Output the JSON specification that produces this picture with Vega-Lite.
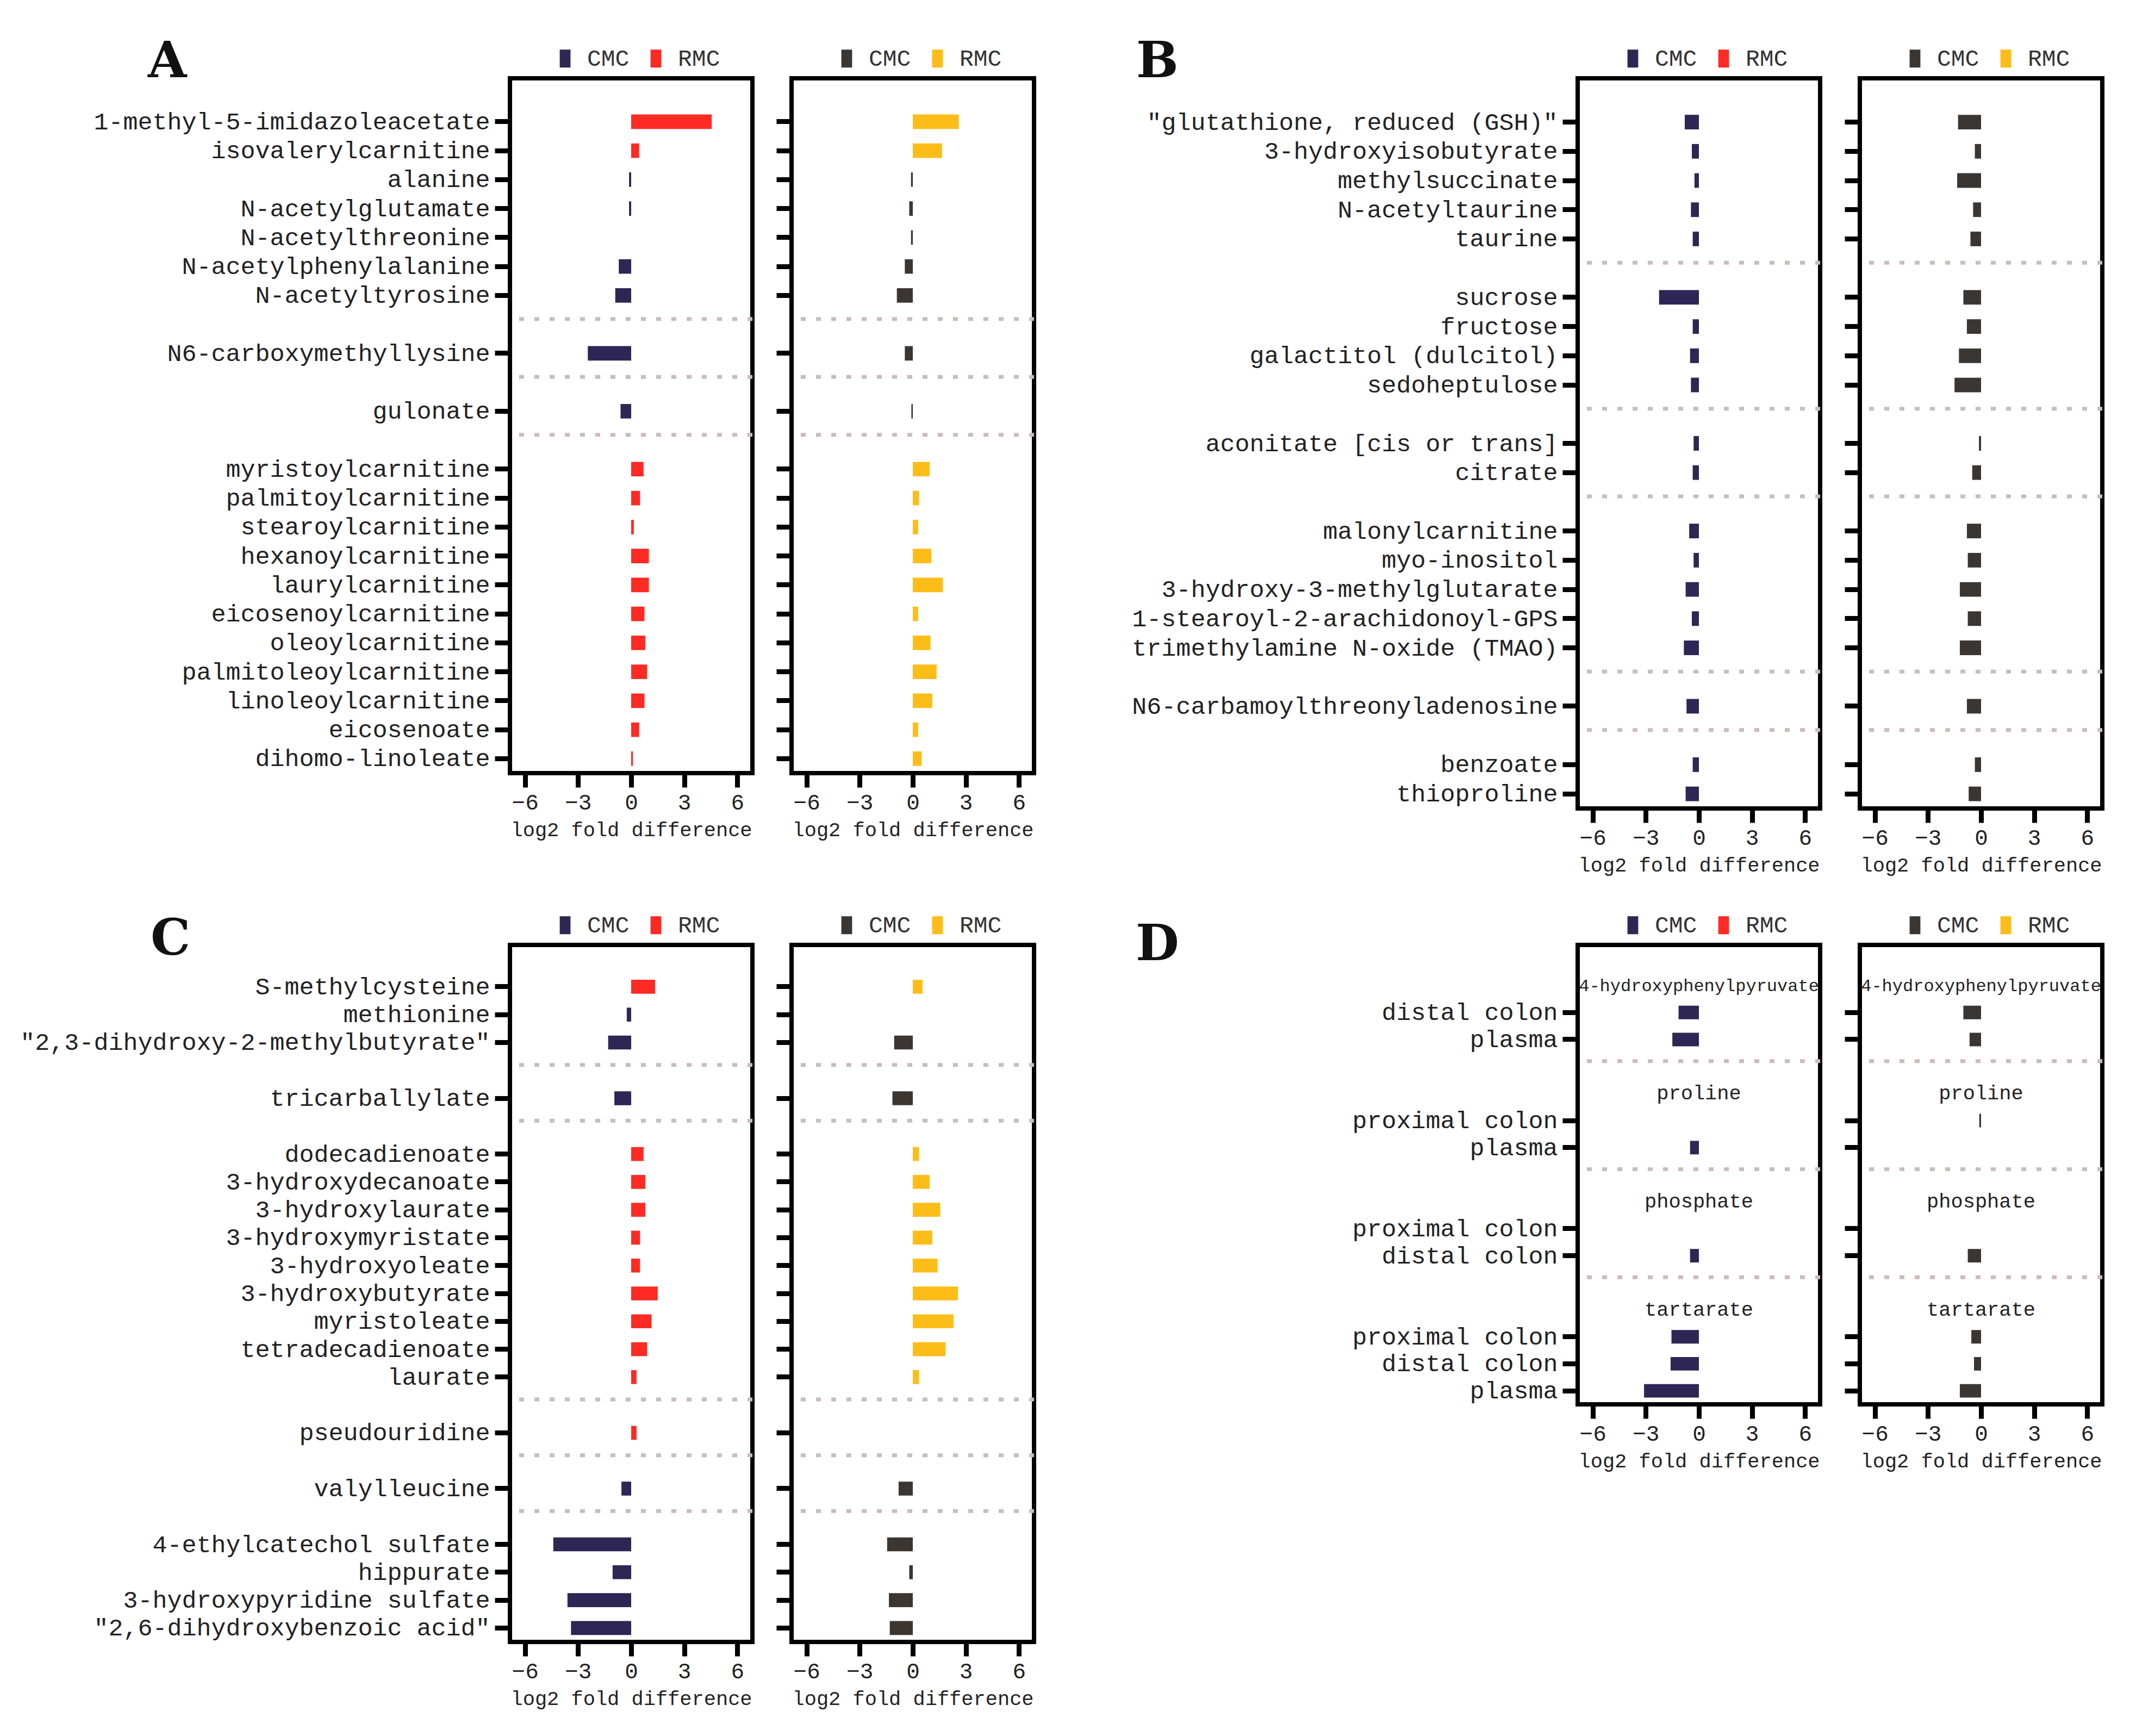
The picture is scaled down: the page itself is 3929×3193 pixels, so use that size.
{
"$schema": "https://vega.github.io/schema/vega-lite/v6.json",
"background": "white",
"padding": {"left": 0, "top": 68, "right": 0, "bottom": 0},
"columns": 8,
"bounds": "flush",
"align": "each",
"spacing": {"row": 251, "column": 0},
"resolve": {"scale": {"color": "independent"}, "legend": {"color": "independent"}},
"datasets": {
"A": [
{"k":"1-methyl-5-imidazoleacetate","s":"L","v":4.55,"g":"RMC"},
{"k":"isovalerylcarnitine","s":"L","v":0.45,"g":"RMC"},
{"k":"alanine","s":"L","v":-0.12,"g":"CMC"},
{"k":"N-acetylglutamate","s":"L","v":-0.12,"g":"CMC"},
{"k":"N-acetylphenylalanine","s":"L","v":-0.7,"g":"CMC"},
{"k":"N-acetyltyrosine","s":"L","v":-0.9,"g":"CMC"},
{"k":"N6-carboxymethyllysine","s":"L","v":-2.45,"g":"CMC"},
{"k":"gulonate","s":"L","v":-0.6,"g":"CMC"},
{"k":"myristoylcarnitine","s":"L","v":0.7,"g":"RMC"},
{"k":"palmitoylcarnitine","s":"L","v":0.5,"g":"RMC"},
{"k":"stearoylcarnitine","s":"L","v":0.15,"g":"RMC"},
{"k":"hexanoylcarnitine","s":"L","v":1.0,"g":"RMC"},
{"k":"laurylcarnitine","s":"L","v":1.0,"g":"RMC"},
{"k":"eicosenoylcarnitine","s":"L","v":0.75,"g":"RMC"},
{"k":"oleoylcarnitine","s":"L","v":0.8,"g":"RMC"},
{"k":"palmitoleoylcarnitine","s":"L","v":0.9,"g":"RMC"},
{"k":"linoleoylcarnitine","s":"L","v":0.75,"g":"RMC"},
{"k":"eicosenoate","s":"L","v":0.45,"g":"RMC"},
{"k":"dihomo-linoleate","s":"L","v":0.1,"g":"RMC"},
{"k":"1-methyl-5-imidazoleacetate","s":"R","v":2.6,"g":"RMC"},
{"k":"isovalerylcarnitine","s":"R","v":1.65,"g":"RMC"},
{"k":"alanine","s":"R","v":-0.1,"g":"CMC"},
{"k":"N-acetylglutamate","s":"R","v":-0.2,"g":"CMC"},
{"k":"N-acetylthreonine","s":"R","v":-0.1,"g":"CMC"},
{"k":"N-acetylphenylalanine","s":"R","v":-0.45,"g":"CMC"},
{"k":"N-acetyltyrosine","s":"R","v":-0.9,"g":"CMC"},
{"k":"N6-carboxymethyllysine","s":"R","v":-0.45,"g":"CMC"},
{"k":"gulonate","s":"R","v":-0.08,"g":"CMC"},
{"k":"myristoylcarnitine","s":"R","v":0.95,"g":"RMC"},
{"k":"palmitoylcarnitine","s":"R","v":0.35,"g":"RMC"},
{"k":"stearoylcarnitine","s":"R","v":0.3,"g":"RMC"},
{"k":"hexanoylcarnitine","s":"R","v":1.05,"g":"RMC"},
{"k":"laurylcarnitine","s":"R","v":1.7,"g":"RMC"},
{"k":"eicosenoylcarnitine","s":"R","v":0.3,"g":"RMC"},
{"k":"oleoylcarnitine","s":"R","v":1.0,"g":"RMC"},
{"k":"palmitoleoylcarnitine","s":"R","v":1.35,"g":"RMC"},
{"k":"linoleoylcarnitine","s":"R","v":1.1,"g":"RMC"},
{"k":"eicosenoate","s":"R","v":0.3,"g":"RMC"},
{"k":"dihomo-linoleate","s":"R","v":0.5,"g":"RMC"}
],
"B": [
{"k":"\"glutathione, reduced (GSH)\"","s":"L","v":-0.8,"g":"CMC"},
{"k":"3-hydroxyisobutyrate","s":"L","v":-0.4,"g":"CMC"},
{"k":"methylsuccinate","s":"L","v":-0.25,"g":"CMC"},
{"k":"N-acetyltaurine","s":"L","v":-0.45,"g":"CMC"},
{"k":"taurine","s":"L","v":-0.35,"g":"CMC"},
{"k":"sucrose","s":"L","v":-2.25,"g":"CMC"},
{"k":"fructose","s":"L","v":-0.35,"g":"CMC"},
{"k":"galactitol (dulcitol)","s":"L","v":-0.5,"g":"CMC"},
{"k":"sedoheptulose","s":"L","v":-0.45,"g":"CMC"},
{"k":"aconitate [cis or trans]","s":"L","v":-0.3,"g":"CMC"},
{"k":"citrate","s":"L","v":-0.35,"g":"CMC"},
{"k":"malonylcarnitine","s":"L","v":-0.55,"g":"CMC"},
{"k":"myo-inositol","s":"L","v":-0.3,"g":"CMC"},
{"k":"3-hydroxy-3-methylglutarate","s":"L","v":-0.75,"g":"CMC"},
{"k":"1-stearoyl-2-arachidonoyl-GPS","s":"L","v":-0.4,"g":"CMC"},
{"k":"trimethylamine N-oxide (TMAO)","s":"L","v":-0.85,"g":"CMC"},
{"k":"N6-carbamoylthreonyladenosine","s":"L","v":-0.7,"g":"CMC"},
{"k":"benzoate","s":"L","v":-0.35,"g":"CMC"},
{"k":"thioproline","s":"L","v":-0.75,"g":"CMC"},
{"k":"\"glutathione, reduced (GSH)\"","s":"R","v":-1.3,"g":"CMC"},
{"k":"3-hydroxyisobutyrate","s":"R","v":-0.35,"g":"CMC"},
{"k":"methylsuccinate","s":"R","v":-1.35,"g":"CMC"},
{"k":"N-acetyltaurine","s":"R","v":-0.45,"g":"CMC"},
{"k":"taurine","s":"R","v":-0.6,"g":"CMC"},
{"k":"sucrose","s":"R","v":-1.0,"g":"CMC"},
{"k":"fructose","s":"R","v":-0.8,"g":"CMC"},
{"k":"galactitol (dulcitol)","s":"R","v":-1.25,"g":"CMC"},
{"k":"sedoheptulose","s":"R","v":-1.5,"g":"CMC"},
{"k":"aconitate [cis or trans]","s":"R","v":-0.12,"g":"CMC"},
{"k":"citrate","s":"R","v":-0.5,"g":"CMC"},
{"k":"malonylcarnitine","s":"R","v":-0.8,"g":"CMC"},
{"k":"myo-inositol","s":"R","v":-0.75,"g":"CMC"},
{"k":"3-hydroxy-3-methylglutarate","s":"R","v":-1.2,"g":"CMC"},
{"k":"1-stearoyl-2-arachidonoyl-GPS","s":"R","v":-0.75,"g":"CMC"},
{"k":"trimethylamine N-oxide (TMAO)","s":"R","v":-1.2,"g":"CMC"},
{"k":"N6-carbamoylthreonyladenosine","s":"R","v":-0.8,"g":"CMC"},
{"k":"benzoate","s":"R","v":-0.35,"g":"CMC"},
{"k":"thioproline","s":"R","v":-0.7,"g":"CMC"}
],
"C": [
{"k":"S-methylcysteine","s":"L","v":1.35,"g":"RMC"},
{"k":"methionine","s":"L","v":-0.25,"g":"CMC"},
{"k":"\"2,3-dihydroxy-2-methylbutyrate\"","s":"L","v":-1.3,"g":"CMC"},
{"k":"tricarballylate","s":"L","v":-0.95,"g":"CMC"},
{"k":"dodecadienoate","s":"L","v":0.7,"g":"RMC"},
{"k":"3-hydroxydecanoate","s":"L","v":0.8,"g":"RMC"},
{"k":"3-hydroxylaurate","s":"L","v":0.8,"g":"RMC"},
{"k":"3-hydroxymyristate","s":"L","v":0.5,"g":"RMC"},
{"k":"3-hydroxyoleate","s":"L","v":0.5,"g":"RMC"},
{"k":"3-hydroxybutyrate","s":"L","v":1.5,"g":"RMC"},
{"k":"myristoleate","s":"L","v":1.15,"g":"RMC"},
{"k":"tetradecadienoate","s":"L","v":0.9,"g":"RMC"},
{"k":"laurate","s":"L","v":0.3,"g":"RMC"},
{"k":"pseudouridine","s":"L","v":0.3,"g":"RMC"},
{"k":"valylleucine","s":"L","v":-0.55,"g":"CMC"},
{"k":"4-ethylcatechol sulfate","s":"L","v":-4.4,"g":"CMC"},
{"k":"hippurate","s":"L","v":-1.05,"g":"CMC"},
{"k":"3-hydroxypyridine sulfate","s":"L","v":-3.6,"g":"CMC"},
{"k":"\"2,6-dihydroxybenzoic acid\"","s":"L","v":-3.4,"g":"CMC"},
{"k":"S-methylcysteine","s":"R","v":0.55,"g":"RMC"},
{"k":"\"2,3-dihydroxy-2-methylbutyrate\"","s":"R","v":-1.05,"g":"CMC"},
{"k":"tricarballylate","s":"R","v":-1.15,"g":"CMC"},
{"k":"dodecadienoate","s":"R","v":0.35,"g":"RMC"},
{"k":"3-hydroxydecanoate","s":"R","v":0.95,"g":"RMC"},
{"k":"3-hydroxylaurate","s":"R","v":1.55,"g":"RMC"},
{"k":"3-hydroxymyristate","s":"R","v":1.1,"g":"RMC"},
{"k":"3-hydroxyoleate","s":"R","v":1.4,"g":"RMC"},
{"k":"3-hydroxybutyrate","s":"R","v":2.55,"g":"RMC"},
{"k":"myristoleate","s":"R","v":2.3,"g":"RMC"},
{"k":"tetradecadienoate","s":"R","v":1.85,"g":"RMC"},
{"k":"laurate","s":"R","v":0.35,"g":"RMC"},
{"k":"valylleucine","s":"R","v":-0.8,"g":"CMC"},
{"k":"4-ethylcatechol sulfate","s":"R","v":-1.45,"g":"CMC"},
{"k":"hippurate","s":"R","v":-0.2,"g":"CMC"},
{"k":"3-hydroxypyridine sulfate","s":"R","v":-1.35,"g":"CMC"},
{"k":"\"2,6-dihydroxybenzoic acid\"","s":"R","v":-1.3,"g":"CMC"}
],
"D": [
{"k":"distal colon|1","s":"L","v":-1.15,"g":"CMC"},
{"k":"plasma|1","s":"L","v":-1.5,"g":"CMC"},
{"k":"plasma|2","s":"L","v":-0.5,"g":"CMC"},
{"k":"distal colon|3","s":"L","v":-0.5,"g":"CMC"},
{"k":"proximal colon|4","s":"L","v":-1.55,"g":"CMC"},
{"k":"distal colon|4","s":"L","v":-1.6,"g":"CMC"},
{"k":"plasma|4","s":"L","v":-3.1,"g":"CMC"},
{"k":"distal colon|1","s":"R","v":-1.0,"g":"CMC"},
{"k":"plasma|1","s":"R","v":-0.65,"g":"CMC"},
{"k":"proximal colon|2","s":"R","v":-0.1,"g":"CMC"},
{"k":"distal colon|3","s":"R","v":-0.75,"g":"CMC"},
{"k":"proximal colon|4","s":"R","v":-0.55,"g":"CMC"},
{"k":"distal colon|4","s":"R","v":-0.4,"g":"CMC"},
{"k":"plasma|4","s":"R","v":-1.2,"g":"CMC"}
],
"DH": [
{"k":"|h1","t":"4-hydroxyphenylpyruvate"},
{"k":"|h2","t":"proline"},
{"k":"|h3","t":"phosphate"},
{"k":"|h4","t":"tartarate"}
]
},
"concat": [
{"width": 938, "height": 10, "view": {"stroke": null}, "data": {"values": [{}]}, "mark": {"type": "text", "text": ""},
 "title": {"text": "A", "anchor": "start", "frame": "group", "dx": 272, "dy": 95, "offset": 4, "baseline": "alphabetic", "font": "DejaVu Serif", "fontSize": 92, "fontWeight": "bold", "color": "#111"}},
{"width": 446, "height": 1278,
 "encoding": {"y": {"field": "k", "type": "nominal",
   "scale": {"type": "band", "paddingInner": 0, "paddingOuter": 0, "domain": ["|b","1-methyl-5-imidazoleacetate","isovalerylcarnitine","alanine","N-acetylglutamate","N-acetylthreonine","N-acetylphenylalanine","N-acetyltyrosine","|s1","N6-carboxymethyllysine","|s2","gulonate","|s3","myristoylcarnitine","palmitoylcarnitine","stearoylcarnitine","hexanoylcarnitine","laurylcarnitine","eicosenoylcarnitine","oleoylcarnitine","palmitoleoylcarnitine","linoleoylcarnitine","eicosenoate","dihomo-linoleate"]},
   "axis": {"title": null, "labelExpr": "split(datum.value,'|')[0]", "values": ["1-methyl-5-imidazoleacetate","isovalerylcarnitine","alanine","N-acetylglutamate","N-acetylthreonine","N-acetylphenylalanine","N-acetyltyrosine","N6-carboxymethyllysine","gulonate","myristoylcarnitine","palmitoylcarnitine","stearoylcarnitine","hexanoylcarnitine","laurylcarnitine","eicosenoylcarnitine","oleoylcarnitine","palmitoleoylcarnitine","linoleoylcarnitine","eicosenoate","dihomo-linoleate"]}}},
 "layer": [
  {"data": {"values": [{"k":"|s1"},{"k":"|s2"},{"k":"|s3"}]}, "mark": {"type": "rule", "strokeDash": [9, 19], "strokeWidth": 7, "color": "#cbbcba", "yOffset": -10}, "encoding": {}},
  {"data": {"name": "A"}, "transform": [{"filter": "datum.s == 'L'"}], "mark": {"type": "bar", "height": {"band": 0.5}},
   "encoding": {"x": {"field": "v", "type": "quantitative", "stack": null, "scale": {"domain": [-6.85, 6.85], "nice": false}, "axis": {"values": [-6,-3,0,3,6], "title": "log2 fold difference"}},
    "color": {"field": "g", "type": "nominal", "scale": {"domain": ["CMC","RMC"], "range": ["#2e2654","#fd2b24"]},
     "legend": {"orient": "none", "legendX": 80, "legendY": -58, "direction": "horizontal", "title": null, "symbolType": "M-0.6,-1H0.6V1H-0.6Z", "symbolSize": 1089, "symbolStrokeWidth": 0, "labelFont": "Liberation Mono", "labelFontSize": 43, "labelColor": "#333", "labelOffset": 19, "columnPadding": 27, "padding": 0}}}}
 ]},
{"width": 72, "height": 10, "view": {"stroke": null}, "data": {"values": [{}]}, "mark": {"type": "text", "text": ""}},
{"width": 446, "height": 1278,
 "encoding": {"y": {"field": "k", "type": "nominal",
   "scale": {"type": "band", "paddingInner": 0, "paddingOuter": 0, "domain": ["|b","1-methyl-5-imidazoleacetate","isovalerylcarnitine","alanine","N-acetylglutamate","N-acetylthreonine","N-acetylphenylalanine","N-acetyltyrosine","|s1","N6-carboxymethyllysine","|s2","gulonate","|s3","myristoylcarnitine","palmitoylcarnitine","stearoylcarnitine","hexanoylcarnitine","laurylcarnitine","eicosenoylcarnitine","oleoylcarnitine","palmitoleoylcarnitine","linoleoylcarnitine","eicosenoate","dihomo-linoleate"]},
   "axis": {"title": null, "labels": false, "values": ["1-methyl-5-imidazoleacetate","isovalerylcarnitine","alanine","N-acetylglutamate","N-acetylthreonine","N-acetylphenylalanine","N-acetyltyrosine","N6-carboxymethyllysine","gulonate","myristoylcarnitine","palmitoylcarnitine","stearoylcarnitine","hexanoylcarnitine","laurylcarnitine","eicosenoylcarnitine","oleoylcarnitine","palmitoleoylcarnitine","linoleoylcarnitine","eicosenoate","dihomo-linoleate"]}}},
 "layer": [
  {"data": {"values": [{"k":"|s1"},{"k":"|s2"},{"k":"|s3"}]}, "mark": {"type": "rule", "strokeDash": [9, 19], "strokeWidth": 7, "color": "#cbbcba", "yOffset": -10}, "encoding": {}},
  {"data": {"name": "A"}, "transform": [{"filter": "datum.s == 'R'"}], "mark": {"type": "bar", "height": {"band": 0.5}},
   "encoding": {"x": {"field": "v", "type": "quantitative", "stack": null, "scale": {"domain": [-6.85, 6.85], "nice": false}, "axis": {"values": [-6,-3,0,3,6], "title": "log2 fold difference"}},
    "color": {"field": "g", "type": "nominal", "scale": {"domain": ["CMC","RMC"], "range": ["#3c3632","#fdbd19"]},
     "legend": {"orient": "none", "legendX": 80, "legendY": -58, "direction": "horizontal", "title": null, "symbolType": "M-0.6,-1H0.6V1H-0.6Z", "symbolSize": 1089, "symbolStrokeWidth": 0, "labelFont": "Liberation Mono", "labelFontSize": 43, "labelColor": "#333", "labelOffset": 19, "columnPadding": 27, "padding": 0}}}}
 ]},
{"width": 1000, "height": 10, "view": {"stroke": null}, "data": {"values": [{}]}, "mark": {"type": "text", "text": ""},
 "title": {"text": "B", "anchor": "start", "frame": "group", "dx": 188, "dy": 95, "offset": 4, "baseline": "alphabetic", "font": "DejaVu Serif", "fontSize": 92, "fontWeight": "bold", "color": "#111"}},
{"width": 446, "height": 1343,
 "encoding": {"y": {"field": "k", "type": "nominal",
   "scale": {"type": "band", "paddingInner": 0, "paddingOuter": 0, "domain": ["|b","\"glutathione, reduced (GSH)\"","3-hydroxyisobutyrate","methylsuccinate","N-acetyltaurine","taurine","|s1","sucrose","fructose","galactitol (dulcitol)","sedoheptulose","|s2","aconitate [cis or trans]","citrate","|s3","malonylcarnitine","myo-inositol","3-hydroxy-3-methylglutarate","1-stearoyl-2-arachidonoyl-GPS","trimethylamine N-oxide (TMAO)","|s4","N6-carbamoylthreonyladenosine","|s5","benzoate","thioproline"]},
   "axis": {"title": null, "labelExpr": "split(datum.value,'|')[0]", "values": ["\"glutathione, reduced (GSH)\"","3-hydroxyisobutyrate","methylsuccinate","N-acetyltaurine","taurine","sucrose","fructose","galactitol (dulcitol)","sedoheptulose","aconitate [cis or trans]","citrate","malonylcarnitine","myo-inositol","3-hydroxy-3-methylglutarate","1-stearoyl-2-arachidonoyl-GPS","trimethylamine N-oxide (TMAO)","N6-carbamoylthreonyladenosine","benzoate","thioproline"]}}},
 "layer": [
  {"data": {"values": [{"k":"|s1"},{"k":"|s2"},{"k":"|s3"},{"k":"|s4"},{"k":"|s5"}]}, "mark": {"type": "rule", "strokeDash": [9, 19], "strokeWidth": 7, "color": "#cbbcba", "yOffset": -10}, "encoding": {}},
  {"data": {"name": "B"}, "transform": [{"filter": "datum.s == 'L'"}], "mark": {"type": "bar", "height": {"band": 0.5}},
   "encoding": {"x": {"field": "v", "type": "quantitative", "stack": null, "scale": {"domain": [-6.85, 6.85], "nice": false}, "axis": {"values": [-6,-3,0,3,6], "title": "log2 fold difference"}},
    "color": {"field": "g", "type": "nominal", "scale": {"domain": ["CMC","RMC"], "range": ["#2e2654","#fd2b24"]},
     "legend": {"orient": "none", "legendX": 80, "legendY": -58, "direction": "horizontal", "title": null, "symbolType": "M-0.6,-1H0.6V1H-0.6Z", "symbolSize": 1089, "symbolStrokeWidth": 0, "labelFont": "Liberation Mono", "labelFontSize": 43, "labelColor": "#333", "labelOffset": 19, "columnPadding": 27, "padding": 0}}}}
 ]},
{"width": 73, "height": 10, "view": {"stroke": null}, "data": {"values": [{}]}, "mark": {"type": "text", "text": ""}},
{"width": 446, "height": 1343,
 "encoding": {"y": {"field": "k", "type": "nominal",
   "scale": {"type": "band", "paddingInner": 0, "paddingOuter": 0, "domain": ["|b","\"glutathione, reduced (GSH)\"","3-hydroxyisobutyrate","methylsuccinate","N-acetyltaurine","taurine","|s1","sucrose","fructose","galactitol (dulcitol)","sedoheptulose","|s2","aconitate [cis or trans]","citrate","|s3","malonylcarnitine","myo-inositol","3-hydroxy-3-methylglutarate","1-stearoyl-2-arachidonoyl-GPS","trimethylamine N-oxide (TMAO)","|s4","N6-carbamoylthreonyladenosine","|s5","benzoate","thioproline"]},
   "axis": {"title": null, "labels": false, "values": ["\"glutathione, reduced (GSH)\"","3-hydroxyisobutyrate","methylsuccinate","N-acetyltaurine","taurine","sucrose","fructose","galactitol (dulcitol)","sedoheptulose","aconitate [cis or trans]","citrate","malonylcarnitine","myo-inositol","3-hydroxy-3-methylglutarate","1-stearoyl-2-arachidonoyl-GPS","trimethylamine N-oxide (TMAO)","N6-carbamoylthreonyladenosine","benzoate","thioproline"]}}},
 "layer": [
  {"data": {"values": [{"k":"|s1"},{"k":"|s2"},{"k":"|s3"},{"k":"|s4"},{"k":"|s5"}]}, "mark": {"type": "rule", "strokeDash": [9, 19], "strokeWidth": 7, "color": "#cbbcba", "yOffset": -10}, "encoding": {}},
  {"data": {"name": "B"}, "transform": [{"filter": "datum.s == 'R'"}], "mark": {"type": "bar", "height": {"band": 0.5}},
   "encoding": {"x": {"field": "v", "type": "quantitative", "stack": null, "scale": {"domain": [-6.85, 6.85], "nice": false}, "axis": {"values": [-6,-3,0,3,6], "title": "log2 fold difference"}},
    "color": {"field": "g", "type": "nominal", "scale": {"domain": ["CMC","RMC"], "range": ["#3c3632","#fdbd19"]},
     "legend": {"orient": "none", "legendX": 80, "legendY": -58, "direction": "horizontal", "title": null, "symbolType": "M-0.6,-1H0.6V1H-0.6Z", "symbolSize": 1089, "symbolStrokeWidth": 0, "labelFont": "Liberation Mono", "labelFontSize": 43, "labelColor": "#333", "labelOffset": 19, "columnPadding": 27, "padding": 0}}}}
 ]},
{"width": 938, "height": 10, "view": {"stroke": null}, "data": {"values": [{}]}, "mark": {"type": "text", "text": ""},
 "title": {"text": "C", "anchor": "start", "frame": "group", "dx": 277, "dy": 115, "offset": 4, "baseline": "alphabetic", "font": "DejaVu Serif", "fontSize": 92, "fontWeight": "bold", "color": "#111"}},
{"width": 446, "height": 1282,
 "encoding": {"y": {"field": "k", "type": "nominal",
   "scale": {"type": "band", "paddingInner": 0, "paddingOuter": 0, "domain": ["|b","S-methylcysteine","methionine","\"2,3-dihydroxy-2-methylbutyrate\"","|s1","tricarballylate","|s2","dodecadienoate","3-hydroxydecanoate","3-hydroxylaurate","3-hydroxymyristate","3-hydroxyoleate","3-hydroxybutyrate","myristoleate","tetradecadienoate","laurate","|s3","pseudouridine","|s4","valylleucine","|s5","4-ethylcatechol sulfate","hippurate","3-hydroxypyridine sulfate","\"2,6-dihydroxybenzoic acid\""]},
   "axis": {"title": null, "labelExpr": "split(datum.value,'|')[0]", "values": ["S-methylcysteine","methionine","\"2,3-dihydroxy-2-methylbutyrate\"","tricarballylate","dodecadienoate","3-hydroxydecanoate","3-hydroxylaurate","3-hydroxymyristate","3-hydroxyoleate","3-hydroxybutyrate","myristoleate","tetradecadienoate","laurate","pseudouridine","valylleucine","4-ethylcatechol sulfate","hippurate","3-hydroxypyridine sulfate","\"2,6-dihydroxybenzoic acid\""]}}},
 "layer": [
  {"data": {"values": [{"k":"|s1"},{"k":"|s2"},{"k":"|s3"},{"k":"|s4"},{"k":"|s5"}]}, "mark": {"type": "rule", "strokeDash": [9, 19], "strokeWidth": 7, "color": "#cbbcba", "yOffset": -10}, "encoding": {}},
  {"data": {"name": "C"}, "transform": [{"filter": "datum.s == 'L'"}], "mark": {"type": "bar", "height": {"band": 0.5}},
   "encoding": {"x": {"field": "v", "type": "quantitative", "stack": null, "scale": {"domain": [-6.85, 6.85], "nice": false}, "axis": {"values": [-6,-3,0,3,6], "title": "log2 fold difference"}},
    "color": {"field": "g", "type": "nominal", "scale": {"domain": ["CMC","RMC"], "range": ["#2e2654","#fd2b24"]},
     "legend": {"orient": "none", "legendX": 80, "legendY": -58, "direction": "horizontal", "title": null, "symbolType": "M-0.6,-1H0.6V1H-0.6Z", "symbolSize": 1089, "symbolStrokeWidth": 0, "labelFont": "Liberation Mono", "labelFontSize": 43, "labelColor": "#333", "labelOffset": 19, "columnPadding": 27, "padding": 0}}}}
 ]},
{"width": 72, "height": 10, "view": {"stroke": null}, "data": {"values": [{}]}, "mark": {"type": "text", "text": ""}},
{"width": 446, "height": 1282,
 "encoding": {"y": {"field": "k", "type": "nominal",
   "scale": {"type": "band", "paddingInner": 0, "paddingOuter": 0, "domain": ["|b","S-methylcysteine","methionine","\"2,3-dihydroxy-2-methylbutyrate\"","|s1","tricarballylate","|s2","dodecadienoate","3-hydroxydecanoate","3-hydroxylaurate","3-hydroxymyristate","3-hydroxyoleate","3-hydroxybutyrate","myristoleate","tetradecadienoate","laurate","|s3","pseudouridine","|s4","valylleucine","|s5","4-ethylcatechol sulfate","hippurate","3-hydroxypyridine sulfate","\"2,6-dihydroxybenzoic acid\""]},
   "axis": {"title": null, "labels": false, "values": ["S-methylcysteine","methionine","\"2,3-dihydroxy-2-methylbutyrate\"","tricarballylate","dodecadienoate","3-hydroxydecanoate","3-hydroxylaurate","3-hydroxymyristate","3-hydroxyoleate","3-hydroxybutyrate","myristoleate","tetradecadienoate","laurate","pseudouridine","valylleucine","4-ethylcatechol sulfate","hippurate","3-hydroxypyridine sulfate","\"2,6-dihydroxybenzoic acid\""]}}},
 "layer": [
  {"data": {"values": [{"k":"|s1"},{"k":"|s2"},{"k":"|s3"},{"k":"|s4"},{"k":"|s5"}]}, "mark": {"type": "rule", "strokeDash": [9, 19], "strokeWidth": 7, "color": "#cbbcba", "yOffset": -10}, "encoding": {}},
  {"data": {"name": "C"}, "transform": [{"filter": "datum.s == 'R'"}], "mark": {"type": "bar", "height": {"band": 0.5}},
   "encoding": {"x": {"field": "v", "type": "quantitative", "stack": null, "scale": {"domain": [-6.85, 6.85], "nice": false}, "axis": {"values": [-6,-3,0,3,6], "title": "log2 fold difference"}},
    "color": {"field": "g", "type": "nominal", "scale": {"domain": ["CMC","RMC"], "range": ["#3c3632","#fdbd19"]},
     "legend": {"orient": "none", "legendX": 80, "legendY": -58, "direction": "horizontal", "title": null, "symbolType": "M-0.6,-1H0.6V1H-0.6Z", "symbolSize": 1089, "symbolStrokeWidth": 0, "labelFont": "Liberation Mono", "labelFontSize": 43, "labelColor": "#333", "labelOffset": 19, "columnPadding": 27, "padding": 0}}}}
 ]},
{"width": 1000, "height": 10, "view": {"stroke": null}, "data": {"values": [{}]}, "mark": {"type": "text", "text": ""},
 "title": {"text": "D", "anchor": "start", "frame": "group", "dx": 187, "dy": 125, "offset": 4, "baseline": "alphabetic", "font": "DejaVu Serif", "fontSize": 92, "fontWeight": "bold", "color": "#111"}},
{"width": 446, "height": 845,
 "encoding": {"y": {"field": "k", "type": "nominal",
   "scale": {"type": "band", "paddingInner": 0, "paddingOuter": 0, "domain": ["|b","|h1","distal colon|1","plasma|1","|s1","|h2","proximal colon|2","plasma|2","|s2","|h3","proximal colon|3","distal colon|3","|s3","|h4","proximal colon|4","distal colon|4","plasma|4"]},
   "axis": {"title": null, "labelExpr": "split(datum.value,'|')[0]", "values": ["distal colon|1","plasma|1","proximal colon|2","plasma|2","proximal colon|3","distal colon|3","proximal colon|4","distal colon|4","plasma|4"]}}},
 "layer": [
  {"data": {"values": [{"k":"|s1"},{"k":"|s2"},{"k":"|s3"}]}, "mark": {"type": "rule", "strokeDash": [9, 19], "strokeWidth": 7, "color": "#cbbcba", "yOffset": -10}, "encoding": {}},
  {"data": {"name": "DH"}, "transform": [{"filter": "datum.k == '|h1'"}], "mark": {"type": "text", "font": "Liberation Mono", "fontSize": 32, "color": "#222", "clip": true, "baseline": "middle"},
   "encoding": {"x": {"datum": 0, "type": "quantitative"}, "text": {"field": "t", "type": "nominal"}}},
  {"data": {"name": "DH"}, "transform": [{"filter": "datum.k != '|h1'"}], "mark": {"type": "text", "font": "Liberation Mono", "fontSize": 37, "color": "#222", "clip": true, "baseline": "middle"},
   "encoding": {"x": {"datum": 0, "type": "quantitative"}, "text": {"field": "t", "type": "nominal"}}},
  {"data": {"name": "D"}, "transform": [{"filter": "datum.s == 'L'"}], "mark": {"type": "bar", "height": {"band": 0.5}},
   "encoding": {"x": {"field": "v", "type": "quantitative", "stack": null, "scale": {"domain": [-6.85, 6.85], "nice": false}, "axis": {"values": [-6,-3,0,3,6], "title": "log2 fold difference"}},
    "color": {"field": "g", "type": "nominal", "scale": {"domain": ["CMC","RMC"], "range": ["#2e2654","#fd2b24"]},
     "legend": {"orient": "none", "legendX": 80, "legendY": -58, "direction": "horizontal", "title": null, "symbolType": "M-0.6,-1H0.6V1H-0.6Z", "symbolSize": 1089, "symbolStrokeWidth": 0, "labelFont": "Liberation Mono", "labelFontSize": 43, "labelColor": "#333", "labelOffset": 19, "columnPadding": 27, "padding": 0}}}}
 ]},
{"width": 73, "height": 10, "view": {"stroke": null}, "data": {"values": [{}]}, "mark": {"type": "text", "text": ""}},
{"width": 446, "height": 845,
 "encoding": {"y": {"field": "k", "type": "nominal",
   "scale": {"type": "band", "paddingInner": 0, "paddingOuter": 0, "domain": ["|b","|h1","distal colon|1","plasma|1","|s1","|h2","proximal colon|2","plasma|2","|s2","|h3","proximal colon|3","distal colon|3","|s3","|h4","proximal colon|4","distal colon|4","plasma|4"]},
   "axis": {"title": null, "labels": false, "values": ["distal colon|1","plasma|1","proximal colon|2","plasma|2","proximal colon|3","distal colon|3","proximal colon|4","distal colon|4","plasma|4"]}}},
 "layer": [
  {"data": {"values": [{"k":"|s1"},{"k":"|s2"},{"k":"|s3"}]}, "mark": {"type": "rule", "strokeDash": [9, 19], "strokeWidth": 7, "color": "#cbbcba", "yOffset": -10}, "encoding": {}},
  {"data": {"name": "DH"}, "transform": [{"filter": "datum.k == '|h1'"}], "mark": {"type": "text", "font": "Liberation Mono", "fontSize": 32, "color": "#222", "clip": true, "baseline": "middle"},
   "encoding": {"x": {"datum": 0, "type": "quantitative"}, "text": {"field": "t", "type": "nominal"}}},
  {"data": {"name": "DH"}, "transform": [{"filter": "datum.k != '|h1'"}], "mark": {"type": "text", "font": "Liberation Mono", "fontSize": 37, "color": "#222", "clip": true, "baseline": "middle"},
   "encoding": {"x": {"datum": 0, "type": "quantitative"}, "text": {"field": "t", "type": "nominal"}}},
  {"data": {"name": "D"}, "transform": [{"filter": "datum.s == 'R'"}], "mark": {"type": "bar", "height": {"band": 0.5}},
   "encoding": {"x": {"field": "v", "type": "quantitative", "stack": null, "scale": {"domain": [-6.85, 6.85], "nice": false}, "axis": {"values": [-6,-3,0,3,6], "title": "log2 fold difference"}},
    "color": {"field": "g", "type": "nominal", "scale": {"domain": ["CMC","RMC"], "range": ["#3c3632","#fdbd19"]},
     "legend": {"orient": "none", "legendX": 80, "legendY": -58, "direction": "horizontal", "title": null, "symbolType": "M-0.6,-1H0.6V1H-0.6Z", "symbolSize": 1089, "symbolStrokeWidth": 0, "labelFont": "Liberation Mono", "labelFontSize": 43, "labelColor": "#333", "labelOffset": 19, "columnPadding": 27, "padding": 0}}}}
 ]}
],
"config": {
 "view": {"stroke": "#000", "strokeWidth": 8},
 "font": "Liberation Mono",
 "axis": {"labelFont": "Liberation Mono", "titleFont": "Liberation Mono", "labelColor": "#222", "titleColor": "#222", "tickColor": "#000", "domain": false, "grid": false, "tickWidth": 9, "titleFontWeight": "normal", "labelOverlap": false, "labelLimit": 2000},
 "axisY": {"tickSize": 28, "labelPadding": 9, "labelFontSize": 45},
 "axisX": {"tickSize": 26, "labelPadding": 8, "labelFontSize": 41, "titleFontSize": 37, "titlePadding": 12}
}
}
